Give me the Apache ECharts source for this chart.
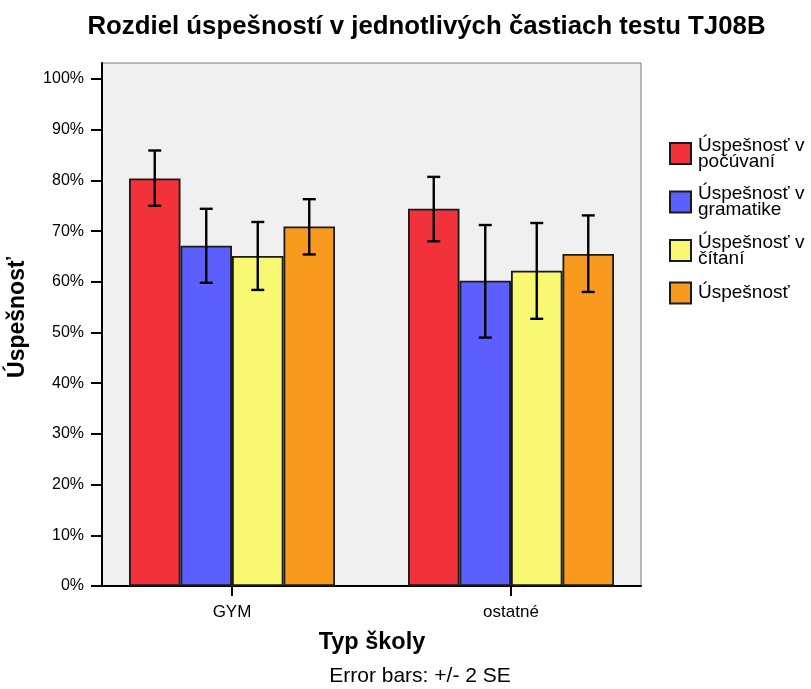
<!DOCTYPE html>
<html>
<head>
<meta charset="utf-8">
<script src="https://cdn.jsdelivr.net/npm/echarts@6/dist/echarts.min.js"></script>
<style>
html,body{margin:0;padding:0;background:#fff;}
#chart{width:811px;height:689px;}
</style>
</head>
<body>
<div id="chart"></div>
<script>
// ---- data ----
var categories = ['GYM', 'ostatné'];
var seriesNames = ['Úspešnosť v počúvaní', 'Úspešnosť v gramatike', 'Úspešnosť v čítaní', 'Úspešnosť'];
var pocuvani = [80.4, 74.4];
var gramatika = [67.1, 60.2];
var citanie = [65.1, 62.2];
var celkova = [70.9, 65.5];
var pocuvaniLow = [75.0, 68.0];
var pocuvaniHigh = [85.9, 80.7];
var gramatikaLow = [59.8, 49.0];
var gramatikaHigh = [74.4, 71.2];
var citanieLow = [58.4, 52.7];
var citanieHigh = [71.8, 71.6];
var celkovaLow = [65.4, 58.0];
var celkovaHigh = [76.3, 73.1];
var yTicks = [0, 10, 20, 30, 40, 50, 60, 70, 80, 90, 100];

var values = [pocuvani, gramatika, citanie, celkova];
var lows = [pocuvaniLow, gramatikaLow, citanieLow, celkovaLow];
var highs = [pocuvaniHigh, gramatikaHigh, citanieHigh, celkovaHigh];
var colors = ['#F1323A', '#5B5FFE', '#F9F873', '#F89A1E'];

var FONT = 'Liberation Sans, Arial, sans-serif';
var yMax = 103.16;
var barW = 51.5;

var chart = echarts.init(document.getElementById('chart'), null, {renderer: 'canvas'});

var series = [];
values.forEach(function (vals, i) {
  series.push({
    name: seriesNames[i],
    type: 'bar',
    xAxisIndex: 1,
    yAxisIndex: 1,
    barWidth: barW,
    barGap: '0%',
    data: vals,
    itemStyle: {color: colors[i], borderColor: '#1a1a1a', borderWidth: 1.8},
    emphasis: {disabled: true},
    z: 2
  });
});
values.forEach(function (vals, i) {
  var data = categories.map(function (c, k) { return [k, lows[i][k], highs[i][k]]; });
  series.push({
    name: 'err' + i,
    type: 'custom',
    xAxisIndex: 1,
    yAxisIndex: 1,
    data: data,
    z: 5,
    silent: true,
    renderItem: function (params, api) {
      var off = (i - 1.5) * barW;
      var top = api.coord([api.value(0), api.value(2)]);
      var bot = api.coord([api.value(0), api.value(1)]);
      var x = top[0] + off;
      var hw = 6.5;
      var st = {stroke: '#000', lineWidth: 2.4};
      return {
        type: 'group',
        children: [
          {type: 'line', shape: {x1: x, y1: top[1], x2: x, y2: bot[1]}, style: st},
          {type: 'line', shape: {x1: x - hw, y1: top[1], x2: x + hw, y2: top[1]}, style: st},
          {type: 'line', shape: {x1: x - hw, y1: bot[1], x2: x + hw, y2: bot[1]}, style: st}
        ]
      };
    }
  });
});

var option = {
  animation: false,
  backgroundColor: '#ffffff',
  textStyle: {fontFamily: FONT},
  grid: [
    {left: 102, top: 63, width: 539, height: 523, show: true, backgroundColor: '#F0F0F0', borderColor: '#7a7a7a', borderWidth: 1, containLabel: false},
    {left: 92.5, top: 63, width: 558, height: 523, show: false, containLabel: false}
  ],
  legend: {
    orient: 'vertical',
    left: 669,
    top: 136,
    padding: 0,
    itemWidth: 21,
    itemHeight: 21,
    itemGap: 13.5,
    icon: 'rect',
    data: seriesNames,
    formatter: function (name) { return name.replace('Úspešnosť v ', 'Úspešnosť v\n'); },
    textStyle: {fontFamily: FONT, fontSize: 19, lineHeight: 16, color: '#000', padding: [0, 0, 0, 2]},
    selectedMode: false
  },
  xAxis: [
    {
      gridIndex: 0, type: 'category', data: categories,
      axisLine: {show: true, lineStyle: {color: '#000', width: 2}},
      axisTick: {show: false}, axisLabel: {show: false}, splitLine: {show: false}
    },
    {
      gridIndex: 1, type: 'category', data: categories,
      axisLine: {show: false},
      axisTick: {show: true, alignWithLabel: true, length: 10, lineStyle: {color: '#000', width: 2}},
      axisLabel: {show: true, margin: 18, fontFamily: FONT, fontSize: 17, color: '#000'},
      splitLine: {show: false}
    }
  ],
  yAxis: [
    {
      gridIndex: 0, type: 'value', min: 0, max: yMax,
      axisLine: {show: true, lineStyle: {color: '#000', width: 2}},
      axisTick: {show: true, length: 11, customValues: yTicks, lineStyle: {color: '#000', width: 2}},
      axisLabel: {show: true, customValues: yTicks, margin: 18, fontFamily: FONT, fontSize: 16, color: '#000', formatter: '{value}%'},
      splitLine: {show: false}
    },
    {
      gridIndex: 1, type: 'value', min: 0, max: yMax, show: false,
      splitLine: {show: false}
    }
  ],
  graphic: [
    {type: 'text', x: 426.5, y: 26.5, style: {text: 'Rozdiel úspešností v jednotlivých častiach testu TJ08B', font: 'bold 25.8px ' + FONT, fill: '#000', align: 'center', verticalAlign: 'middle'}},
    {type: 'text', x: 17.5, y: 317.5, rotation: Math.PI / 2, style: {text: 'Úspešnosť', font: 'bold 23px ' + FONT, fill: '#000', align: 'center', verticalAlign: 'middle'}},
    {type: 'text', x: 372, y: 643, style: {text: 'Typ školy', font: 'bold 23.5px ' + FONT, fill: '#000', align: 'center', verticalAlign: 'middle'}},
    {type: 'text', x: 420, y: 676.5, style: {text: 'Error bars: +/- 2 SE', font: '21px ' + FONT, fill: '#000', align: 'center', verticalAlign: 'middle'}}
  ],
  series: series
};
chart.setOption(option);
</script>
</body>
</html>
